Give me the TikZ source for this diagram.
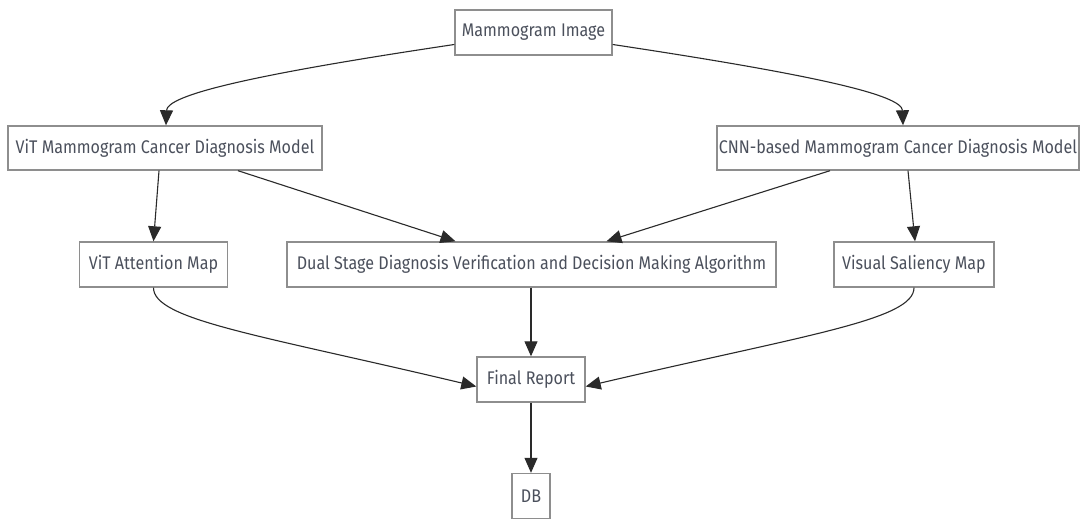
\documentclass[tikz,border=0pt]{standalone}
\usepackage{fontspec}
\setmainfont{Fira Sans}[FakeStretch=0.88]
\usetikzlibrary{arrows.meta}
\definecolor{txt}{HTML}{4B505C}
\definecolor{frame}{HTML}{8E8E8E}
\definecolor{wire}{HTML}{2A2A2A}
\tikzset{
  box/.style={draw=frame, line width=1.4pt, fill=white, text=txt,
    font=\fontsize{18.3}{21}\selectfont, minimum height=45pt, inner sep=0pt},
  link/.style={draw=wire, line width=1.1pt,
    -{Triangle[length=15pt,width=13pt]}},
}
\begin{document}
\begin{tikzpicture}[x=1pt,y=-1pt]
\useasboundingbox[fill=white] (0,0) rectangle (1088,521);
% boxes
\node[box, minimum width=157pt] (mi)  at (533.5,32.5) {Mammogram Image};
\node[box, minimum width=314pt, minimum height=44pt] (vit) at (165,148) {ViT Mammogram Cancer Diagnosis Model};
\node[box, minimum width=362pt, minimum height=44pt] (cnn) at (898,148) {CNN-based Mammogram Cancer Diagnosis Model};
\node[box, minimum width=148pt] (va)  at (153.5,264.5) {ViT Attention Map};
\node[box, minimum width=489pt] (ds)  at (531.5,264.5) {Dual Stage Diagnosis Verification and Decision Making Algorithm};
\node[box, minimum width=160pt] (vs)  at (914,264.5) {Visual Saliency Map};
\node[box, minimum width=108pt] (fr)  at (531,379.5) {Final Report};
\node[box, minimum width=38pt]  (db)  at (531,496) {DB};
% connectors
\draw[link] ([yshift=-12pt]mi.west) .. controls (250,75) and (167,95) .. ([xshift=1pt]vit.north);
\draw[link] ([yshift=-12pt]mi.east) .. controls (815,75) and (902,95) .. ([xshift=5pt]cnn.north);
\draw[link] ([xshift=-6pt]vit.south) -- (va.north);
\draw[link] ([xshift=73pt]vit.south) -- ([xshift=-76pt]ds.north);
\draw[link] ([xshift=-68pt]cnn.south) -- ([xshift=75pt]ds.north);
\draw[link] ([xshift=10pt]cnn.south) -- ([xshift=1pt]vs.north);
\draw[link] (va.south) .. controls (153.5,320) and (260,335) .. ([yshift=-7pt]fr.west);
\draw[link] (vs.south) .. controls (914,320) and (805,335) .. ([yshift=-7pt]fr.east);
\draw[link] (ds.south -| fr.north) -- (fr.north);
\draw[link] (fr.south) -- (db.north);
\end{tikzpicture}
\end{document}
